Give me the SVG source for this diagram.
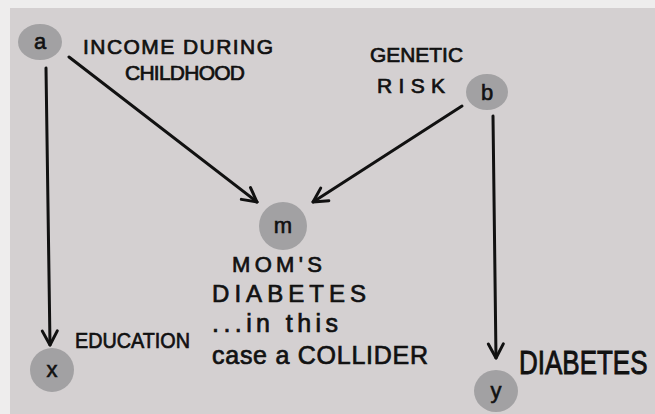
<svg xmlns="http://www.w3.org/2000/svg" width="655" height="414" viewBox="0 0 655 414">
<defs>
<style>
.bg{fill:#d4d0d1}
.node{fill:#a2a1a3}
.lbl{font-family:"Liberation Sans",Arial,sans-serif;fill:#111;stroke:#111;stroke-width:0.7;}
.nl{font-family:"Liberation Sans",Arial,sans-serif;font-size:22px;fill:#111;stroke:#111;stroke-width:0.6;text-anchor:middle;}
.edge{stroke:#111;stroke-width:3;fill:none;stroke-linecap:round;}
</style>
<marker id="arr" viewBox="-17 -10 20 20" markerWidth="20" markerHeight="20" refX="0" refY="0" markerUnits="userSpaceOnUse" orient="auto">
<path d="M-14,-7.5 L0,0 L-14,7.5" fill="none" stroke="#111" stroke-width="3" stroke-linecap="round" stroke-linejoin="round"/>
</marker>
</defs>
<rect x="0" y="0" width="655" height="414" fill="#eeeded"/>
<rect class="bg" x="10" y="8" width="645" height="406"/>

<g id="connectors">
<path class="edge" d="M46,68 L50,345" marker-end="url(#arr)"/>
<path class="edge" d="M69,57 L257,202" marker-end="url(#arr)"/>
<path class="edge" d="M462,106 L313,202" marker-end="url(#arr)"/>
<path class="edge" d="M493,116 L496,358" marker-end="url(#arr)"/>
</g>

<g id="node-a">
<ellipse class="node" cx="40" cy="42" rx="22" ry="18"/>
<text class="nl" x="40" y="49">a</text>
<text class="lbl" x="83" y="54" font-size="21" textLength="190" lengthAdjust="spacing">INCOME DURING</text>
<text class="lbl" x="125" y="80" font-size="21" textLength="120" lengthAdjust="spacing">CHILDHOOD</text>
</g>

<g id="node-b">
<ellipse class="node" cx="487" cy="92" rx="21" ry="18"/>
<text class="nl" x="487" y="100">b</text>
<text class="lbl" x="370" y="62" font-size="21" textLength="93" lengthAdjust="spacingAndGlyphs">GENETIC</text>
<text class="lbl" x="377" y="93" font-size="21" textLength="68" lengthAdjust="spacing">RISK</text>
</g>

<g id="node-m">
<ellipse class="node" cx="283" cy="226" rx="24" ry="24"/>
<text class="nl" x="283" y="233">m</text>
<text class="lbl" x="232" y="272" font-size="22" textLength="90" lengthAdjust="spacing">MOM'S</text>
<text class="lbl" x="212" y="302" font-size="24" textLength="154" lengthAdjust="spacing">DIABETES</text>
<text class="lbl" x="212" y="332" font-size="25" textLength="126" lengthAdjust="spacing">...in this</text>
<text class="lbl" x="212" y="364" font-size="25" textLength="216" lengthAdjust="spacing">case a COLLIDER</text>
</g>

<g id="node-x">
<ellipse class="node" cx="52" cy="370" rx="22" ry="22"/>
<text class="nl" x="52" y="377">x</text>
<text class="lbl" x="75" y="348" font-size="22" textLength="115" lengthAdjust="spacingAndGlyphs">EDUCATION</text>
</g>

<g id="node-y">
<ellipse class="node" cx="496" cy="391" rx="22" ry="21"/>
<text class="nl" x="496" y="398">y</text>
<text class="lbl" transform="translate(519,374) scale(1,1.3)" x="0" y="0" font-size="26">DIABETES</text>
</g>
</svg>
